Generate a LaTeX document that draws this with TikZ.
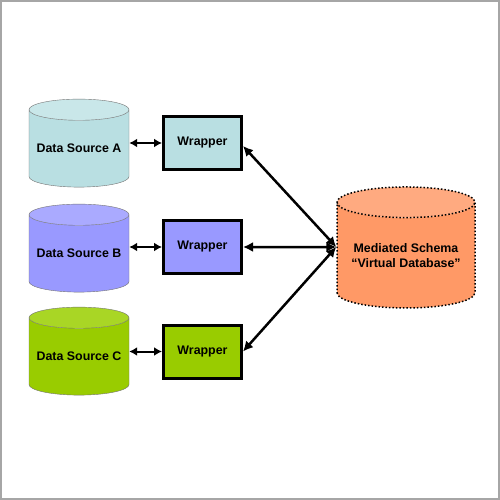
\documentclass[tikz,border=0pt]{standalone}
\usepackage{fontspec}
\setmainfont{Liberation Sans}
\usetikzlibrary{arrows.meta, positioning, shapes.geometric}

\definecolor{srcA}{HTML}{B9DFE2}
\definecolor{srcAtop}{HTML}{C9E7E9}
\definecolor{srcB}{HTML}{9999FF}
\definecolor{srcBtop}{HTML}{AAAAFF}
\definecolor{srcC}{HTML}{99CC00}
\definecolor{srcCtop}{HTML}{A9D625}
\definecolor{med}{HTML}{FF9966}
\definecolor{medtop}{HTML}{FFAA80}

\tikzset{
  txt/.style={font=\fontsize{12.4}{15}\selectfont\bfseries, align=center},
  db/.style={txt, cylinder, shape border rotate=90, aspect=0.25, draw=black!55,
    cylinder uses custom fill, cylinder body fill=#1, cylinder end fill=#1top,
    minimum width=100pt, minimum height=88pt, inner sep=0pt},
  wrap/.style={txt, draw=black, line width=3pt, fill=#1,
    minimum width=78pt, minimum height=53pt, inner sep=0pt},
  link/.style={<->, >={Latex[length=8pt,width=9pt]}, line width=2pt},
  biglink/.style={link, line width=2.5pt, >={Latex[length=10pt,width=10pt]}}
}

\begin{document}
\begin{tikzpicture}[x=1pt, y=-1pt]
\useasboundingbox (0,0) rectangle (500,500);
\draw[black!35, line width=2pt] (1,1) rectangle (499,499);

\node[db=srcA] (dsA) at (79,148.5) {Data Source A};
\node[db=srcB] (dsB) at (79,253.5) {Data Source B};
\node[db=srcC] (dsC) at (79,356.5) {Data Source C};

\node[wrap=srcA] (wrA) at (202.5,143) {Wrapper};
\node[wrap=srcB] (wrB) at (202.5,247) {Wrapper};
\node[wrap=srcC] (wrC) at (202.5,351.5) {Wrapper};

\node[db=med, dotted, draw=black, line width=1.5pt, aspect=0.28,
  minimum width=138pt, minimum height=121pt] (vdb) at (406,255.5)
  {Mediated Schema\\“Virtual Database”};
\coordinate (hub) at ([yshift=8.5pt]vdb.west);

\draw[link] (dsA.east |- wrA) -- (wrA);
\draw[link] (dsB.east |- wrB) -- (wrB);
\draw[link] (dsC.east |- wrC) -- (wrC);

\draw[biglink] ([yshift=-3pt]wrA.east) -- (hub);
\draw[biglink] (wrB.east) -- (hub);
\draw[biglink] (wrC.east) -- (hub);
\end{tikzpicture}
\end{document}
